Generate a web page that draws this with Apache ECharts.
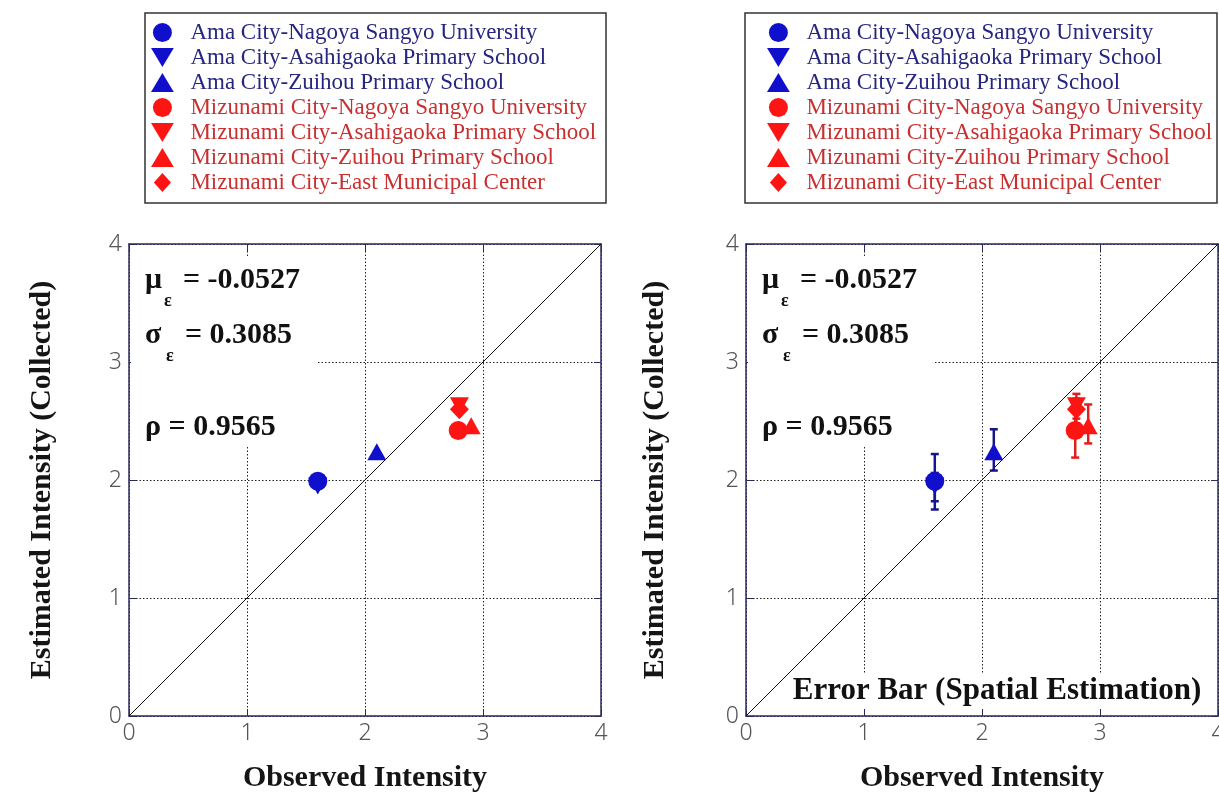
<!DOCTYPE html>
<html><head><meta charset="utf-8">
<script src="https://cdn.jsdelivr.net/npm/echarts@6/dist/echarts.min.js"></script>
<style>html,body{margin:0;padding:0;background:#fff}#c{width:1219px;height:796px}</style>
</head><body><div id="c"></div>
<script>
// ---------------- data ----------------
const siteNames = [
  'Ama City-Nagoya Sangyo University',
  'Ama City-Asahigaoka Primary School',
  'Ama City-Zuihou Primary School',
  'Mizunami City-Nagoya Sangyo University',
  'Mizunami City-Asahigaoka Primary School',
  'Mizunami City-Zuihou Primary School',
  'Mizunami City-East Municipal Center'
];
const cityGroup = ['Ama', 'Ama', 'Ama', 'Mizunami', 'Mizunami', 'Mizunami', 'Mizunami'];
const markerKind = ['circle', 'down', 'up', 'circle', 'down', 'up', 'diamond'];
const observed  = [1.60, 1.60, 2.10, 2.79, 2.80, 2.90, 2.80];
const estimated = [1.99, 1.95, 2.24, 2.42, 2.63, 2.46, 2.60];
const errorLow  = [1.75, 1.82, 2.08, 2.19, 2.52, 2.31, 2.48];
const errorHigh = [2.22, 2.06, 2.43, 2.60, 2.73, 2.64, 2.69];
const diagonal = [[0, 0], [4, 4]];
const tickLabels = ['0', '1', '2', '3', '4'];
const statMu = '-0.0527';
const statSigma = '0.3085';
const statRho = '0.9565';
const xTitle = 'Observed Intensity';
const yTitle = 'Estimated Intensity (Collected)';
const errTitle = 'Error Bar (Spatial Estimation)';

// ---------------- styles ----------------
const markerColor = {Ama: '#1010cc', Mizunami: '#ff1414'};
const barColor = {Ama: '#16168a', Mizunami: '#e41c1c'};
const textColor = {Ama: '#262680', Mizunami: '#c83030'};
const frameColor = '#2a2a5e';
const serif = "'Liberation Serif','Times New Roman',serif";
const sans = "'Noto Sans','DejaVu Sans',sans-serif";

const plotSymbol = {
  circle: {symbol: 'circle', size: 19},
  up: {symbol: 'path://M9,0 L18,16 L0,16 Z', size: [19, 17]},
  down: {symbol: 'path://M0,0 L18,0 L9,16 Z', size: [19, 17]},
  diamond: {symbol: 'path://M9,0 L18,10 L9,20 L0,10 Z', size: [19, 20]}
};
const legendIcon = {
  circle: 'circle',
  up: 'path://M9,0 L18,15 L0,15 Z',
  down: 'path://M0,0 L18,0 L9,15 Z',
  diamond: 'path://M9,0 L18,10 L9,20 L0,10 Z'
};

const grids = [
  {left: 129, top: 244, width: 472, height: 472, containLabel: false, outerBoundsMode: 'none'},
  {left: 746, top: 244, width: 472, height: 472, containLabel: false, outerBoundsMode: 'none'}
];

function axisPair(g, dim) {
  const main = {
    gridIndex: g, type: 'value', min: 0, max: 4, interval: 1,
    position: dim === 'x' ? 'bottom' : 'left',
    axisLine: {show: true, onZero: false, lineStyle: {color: frameColor, width: 1.5}},
    axisTick: {show: true, inside: true, length: 7, lineStyle: {color: frameColor, width: 1}},
    axisLabel: {
      show: true, margin: dim === 'x' ? 6 : 7,
      formatter: v => tickLabels[Math.round(v)],
      fontFamily: sans, fontWeight: 300, fontSize: 23, color: '#555'
    },
    splitLine: {show: true, lineStyle: {type: [1.5, 2], color: '#222', width: 1}},
    name: dim === 'x' ? xTitle : yTitle,
    nameLocation: 'middle',
    nameGap: dim === 'x' ? 47 : (g === 0 ? 72 : 76),
    nameTextStyle: {fontFamily: serif, fontWeight: 'bold', fontSize: 30, color: '#151515'}
  };
  const opp = {
    gridIndex: g, type: 'value', min: 0, max: 4, interval: 1,
    position: dim === 'x' ? 'top' : 'right',
    axisLine: {show: true, onZero: false, lineStyle: {color: frameColor, width: 1.5}},
    axisTick: {show: true, inside: true, length: 7, lineStyle: {color: frameColor, width: 1}},
    axisLabel: {show: false}, splitLine: {show: false}
  };
  return [main, opp];
}

const xAxes = [...axisPair(0, 'x'), ...axisPair(1, 'x')];
const yAxes = [...axisPair(0, 'y'), ...axisPair(1, 'y')];

const series = [];
[0, 1].forEach(g => {
  const xi = g * 2, yi = g * 2;
  series.push({
    type: 'line', name: 'diag' + g, xAxisIndex: xi, yAxisIndex: yi,
    data: diagonal, symbol: 'none', silent: true, z: 2,
    lineStyle: {color: '#111', width: 1}
  });
  if (g === 1) {
    series.push({
      type: 'custom', name: 'errbar', xAxisIndex: xi, yAxisIndex: yi, z: 3,
      data: observed.map((x, i) => ({value: [x, errorLow[i], errorHigh[i]], itemStyle: {color: barColor[cityGroup[i]]}})),
      renderItem: function (params, api) {
        const x = api.value(0), lo = api.value(1), hi = api.value(2);
        const pLo = api.coord([x, lo]), pHi = api.coord([x, hi]);
        const cap = 4;
        const st = {stroke: api.visual('color'), lineWidth: 2.5};
        return {type: 'group', children: [
          {type: 'line', shape: {x1: pLo[0], y1: pLo[1], x2: pHi[0], y2: pHi[1]}, style: st},
          {type: 'line', shape: {x1: pLo[0] - cap, y1: pLo[1], x2: pLo[0] + cap, y2: pLo[1]}, style: st},
          {type: 'line', shape: {x1: pHi[0] - cap, y1: pHi[1], x2: pHi[0] + cap, y2: pHi[1]}, style: st}
        ]};
      }
    });
  }
  siteNames.forEach((nm, i) => {
    const ps = plotSymbol[markerKind[i]];
    series.push({
      type: 'scatter', name: nm, xAxisIndex: xi, yAxisIndex: yi, z: 4,
      symbol: ps.symbol, symbolSize: ps.size,
      itemStyle: {color: markerColor[cityGroup[i]], opacity: 1},
      data: [[observed[i], estimated[i]]]
    });
  });
});

function makeLegend(left) {
  return {
    orient: 'vertical', left: left, top: 20, padding: 0, itemGap: 0,
    itemWidth: 46, itemHeight: 19, selectedMode: false,
    data: siteNames.map((nm, i) => ({
      name: nm, icon: legendIcon[markerKind[i]],
      itemStyle: {color: markerColor[cityGroup[i]]},
      textStyle: {color: textColor[cityGroup[i]]}
    })),
    textStyle: {fontFamily: serif, fontSize: 23, lineHeight: 25}
  };
}

function statGraphics(ox) {
  const big = {fontFamily: serif, fontWeight: 'bold', fontSize: 30, fill: '#111', verticalAlign: 'middle'};
  const small = {fontFamily: serif, fontWeight: 'bold', fontSize: 18, fill: '#111', verticalAlign: 'middle'};
  return [
    {type: 'rect', z: 1, shape: {x: 131 + ox, y: 256, width: 185, height: 191}, style: {fill: '#fff'}, silent: true},
    {type: 'text', z: 5, x: 145 + ox, y: 280, style: Object.assign({text: 'μ'}, big)},
    {type: 'text', z: 5, x: 164 + ox, y: 301, style: Object.assign({text: 'ε'}, small)},
    {type: 'text', z: 5, x: 183 + ox, y: 280, style: Object.assign({text: '= ' + statMu}, big)},
    {type: 'text', z: 5, x: 145 + ox, y: 335, style: Object.assign({text: 'σ'}, big)},
    {type: 'text', z: 5, x: 166 + ox, y: 356, style: Object.assign({text: 'ε'}, small)},
    {type: 'text', z: 5, x: 185 + ox, y: 335, style: Object.assign({text: '= ' + statSigma}, big)},
    {type: 'text', z: 5, x: 145 + ox, y: 427, style: Object.assign({text: 'ρ = ' + statRho}, big)}
  ];
}

const graphics = [
  {type: 'rect', z: 0, shape: {x: 145, y: 13, width: 461, height: 190}, style: {fill: '#fff', stroke: '#333', lineWidth: 1.5}, silent: true},
  {type: 'rect', z: 0, shape: {x: 745, y: 13, width: 472, height: 190}, style: {fill: '#fff', stroke: '#333', lineWidth: 1.5}, silent: true},
  ...statGraphics(0),
  ...statGraphics(617),
  {type: 'rect', z: 1, shape: {x: 786, y: 673, width: 425, height: 36}, style: {fill: '#fff'}, silent: true},
  {type: 'text', z: 5, x: 997, y: 691, style: {text: errTitle, fontFamily: serif, fontWeight: 'bold', fontSize: 31, fill: '#111', align: 'center', verticalAlign: 'middle'}}
];

const chart = echarts.init(document.getElementById('c'), null, {renderer: 'canvas'});
chart.setOption({
  animation: false,
  backgroundColor: '#fff',
  grid: grids,
  xAxis: xAxes,
  yAxis: yAxes,
  legend: [makeLegend(151), makeLegend(767)],
  graphic: graphics,
  series: series
});
</script></body></html>
